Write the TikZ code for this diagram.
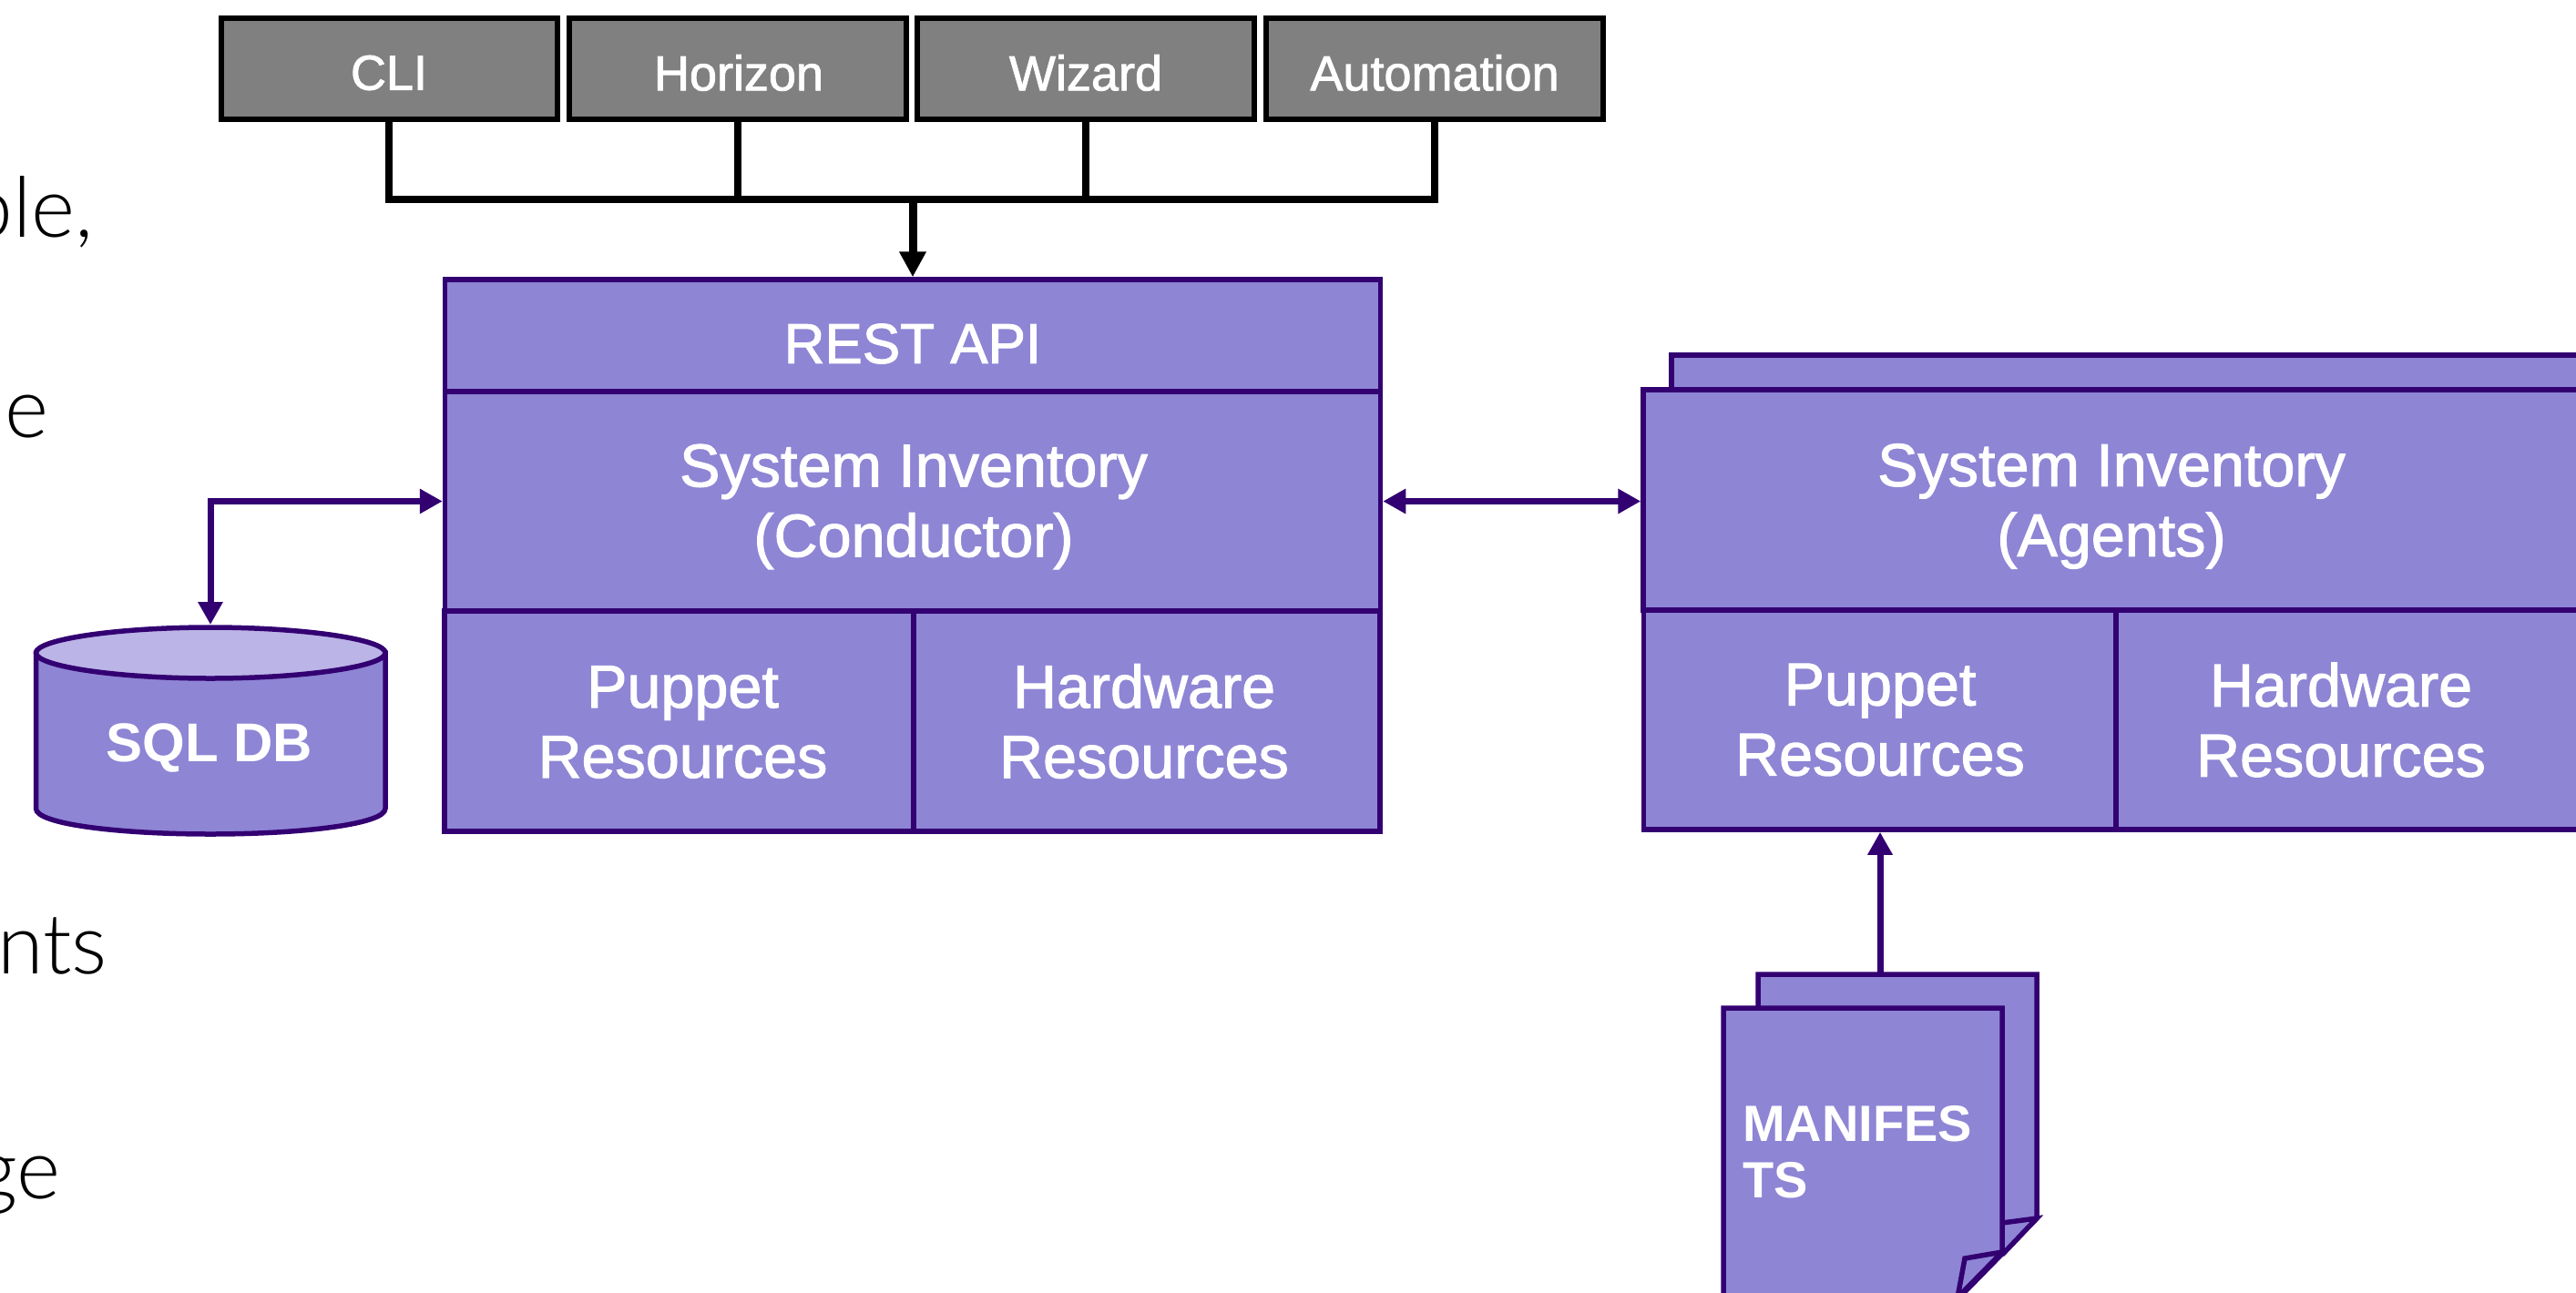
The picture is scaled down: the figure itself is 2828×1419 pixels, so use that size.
\documentclass[tikz,border=0pt]{standalone}
\usepackage{fontspec}
\setmainfont{Liberation Sans}
\newfontfamily\medf{Liberation Sans}[FakeBold=1.6]
\newfontfamily\lightf{Lato}[UprightFont=* Light]
\usetikzlibrary{arrows.meta}
\definecolor{pfill}{HTML}{8E85D5}
\definecolor{pline}{HTML}{330072}
\definecolor{ptop}{HTML}{BBB4E6}
\definecolor{gfill}{HTML}{808080}
\tikzset{
 x=1pt,y=-1pt,
 gbox/.style={draw=black,fill=gfill,line width=6pt,inner sep=0pt},
 gtext/.style={text=white,inner sep=0pt,font=\medf\fontsize{54}{60}\selectfont},
 pbox/.style={draw=pline,fill=pfill,line width=5.5pt,inner sep=0pt},
 ptext/.style={text=white,inner sep=0pt,align=center,font=\medf\fontsize{66.5}{77}\selectfont},
 bus/.style={draw=black,line width=8pt},
 phead/.tip={Triangle[length=25pt,width=26pt]},
 parrow/.style={draw=pline,line width=7pt,phead-phead},
 uparrow/.style={draw=pline,line width=7pt,-phead},
 sheet/.style={draw=pline,fill=pfill,line width=5.5pt,line join=miter},
 bodyt/.style={anchor=base east,inner sep=0pt,font=\lightf\fontsize{92}{100}\selectfont,text=black},
 boldt/.style={text=white,inner sep=0pt,font=\bfseries\fontsize{56}{62}\selectfont},
}
\begin{document}
\begin{tikzpicture}
\useasboundingbox (0,0) rectangle (2828,1419);
% cut-off body text
\node[bodyt] (t1) at (103,260) {ble,};
\node[bodyt] (t2) at (54,480) {e};
\node[bodyt] (t3) at (118,1069) {nts};
\node[bodyt] (t4) at (67,1316) {ge};
% client boxes
\node[gbox,minimum width=369pt,minimum height=111pt] (cli) at (427,75) {};
\node[gbox,minimum width=370pt,minimum height=111pt] (hor) at (810,75) {};
\node[gbox,minimum width=370pt,minimum height=111pt] (wiz) at (1192,75) {};
\node[gbox,minimum width=370pt,minimum height=111pt] (aut) at (1575,75) {};
\node[gtext] (clit) at ([yshift=-5pt]cli.center) {CLI};
\node[gtext] (hort) at ([xshift=1pt,yshift=-5pt]hor.center) {Horizon};
\node[gtext] (wizt) at ([yshift=-5pt]wiz.center) {Wizard};
\node[gtext] (autt) at ([yshift=-5pt]aut.center) {Automation};
% conductor
\node[pbox,minimum width=1027pt,minimum height=123pt] (rest) at (1002,368.5) {};
\node[pbox,minimum width=1027pt,minimum height=241pt] (cond) at (1002,550.5) {};
\node[pbox,minimum width=515pt,minimum height=242pt] (pup1) at (745.5,792) {};
\node[pbox,minimum width=512pt,minimum height=242pt] (hw1) at (1259,792) {};
\node[ptext,font=\medf\fontsize{62}{77}\selectfont] (restt) at ([yshift=-9pt]rest.center) {REST API};
\node[ptext] (condt) at ([xshift=1pt,yshift=-6pt]cond.center) {System Inventory\\(Conductor)};
\node[ptext] (pup1t) at ([xshift=4pt,yshift=-1pt]pup1.center) {Puppet\\Resources};
\node[ptext] (hw1t) at ([xshift=-3pt,yshift=0pt]hw1.center) {Hardware\\Resources};
% agents
\node[sheet,minimum width=1040pt,minimum height=60pt,inner sep=0pt] (back) at (2355,420) {};
\node[pbox,minimum width=1028pt,minimum height=242pt] (ag) at (2318,549) {};
\node[pbox,minimum width=519pt,minimum height=241pt] (pup2) at (2064,790.5) {};
\node[pbox,minimum width=510pt,minimum height=241pt] (hw2) at (2578,790.5) {};
\node[ptext] (agt) at ([yshift=-7pt]ag.center) {System Inventory\\(Agents)};
\node[ptext] (pup2t) at (2064,790.5) {Puppet\\Resources};
\node[ptext] (hw2t) at (2570,790.5) {Hardware\\Resources};
% bus
\coordinate (busl) at (cli.south |- 0,219);
\coordinate (busr) at (aut.south |- 0,219);
\coordinate (busm) at (rest.north |- 0,219);
\draw[bus] (cli.south) -- (busl) -- (busr) -- (aut.south);
\draw[bus] (hor.south) -- (hor.south |- busl);
\draw[bus] (wiz.south) -- (wiz.south |- busl);
\draw[bus,line width=9pt,-{Triangle[length=28pt,width=28pt]}] (busm) -- (rest.north);
% database
\coordinate (dbtop) at (231,686);
\draw[sheet] (39.5,717) -- (39.5,888) .. controls (39.5,905) and (130,916) .. (231,916) .. controls (332,916) and (423,905) .. (423,888) -- (423,717) -- cycle;
\draw[draw=pline,fill=ptop,line width=5.5pt] (39.5,717) .. controls (39.5,702) and (130,689) .. (231,689) .. controls (332,689) and (423,702) .. (423,717) .. controls (423,732) and (332,745) .. (231,745) .. controls (130,745) and (39.5,732) .. (39.5,717) -- cycle;
\node[boldt,font=\bfseries\fontsize{60}{66}\selectfont] (db) at (230,821) {SQL DB};
\draw[parrow] (dbtop) |- (cond.west);
\draw[parrow] (cond.east) -- (cond.east -| ag.west);
% manifests
\draw[sheet] (1930,1480) -- (1930,1070) -- (2236,1070) -- (2236,1338) -- (2150,1426) -- cycle;
\draw[sheet] (2198,1343) -- (2236,1338) -- (2198,1378);
\draw[sheet] (1892,1480) -- (1892,1107) -- (2198,1107) -- (2198,1375) -- (2100,1475) -- cycle;
\draw[sheet] (2198,1375) -- (2157,1382) -- (2149,1425) -- cycle;
\coordinate (mtop) at (2064,1068);
\draw[uparrow] (mtop) -- (pup2.south);
\node[boldt,anchor=base west] (man) at (1913,1253) {MANIFES};
\node[boldt,anchor=base west] (man2) at (1913,1315) {TS};
\end{tikzpicture}
\end{document}
